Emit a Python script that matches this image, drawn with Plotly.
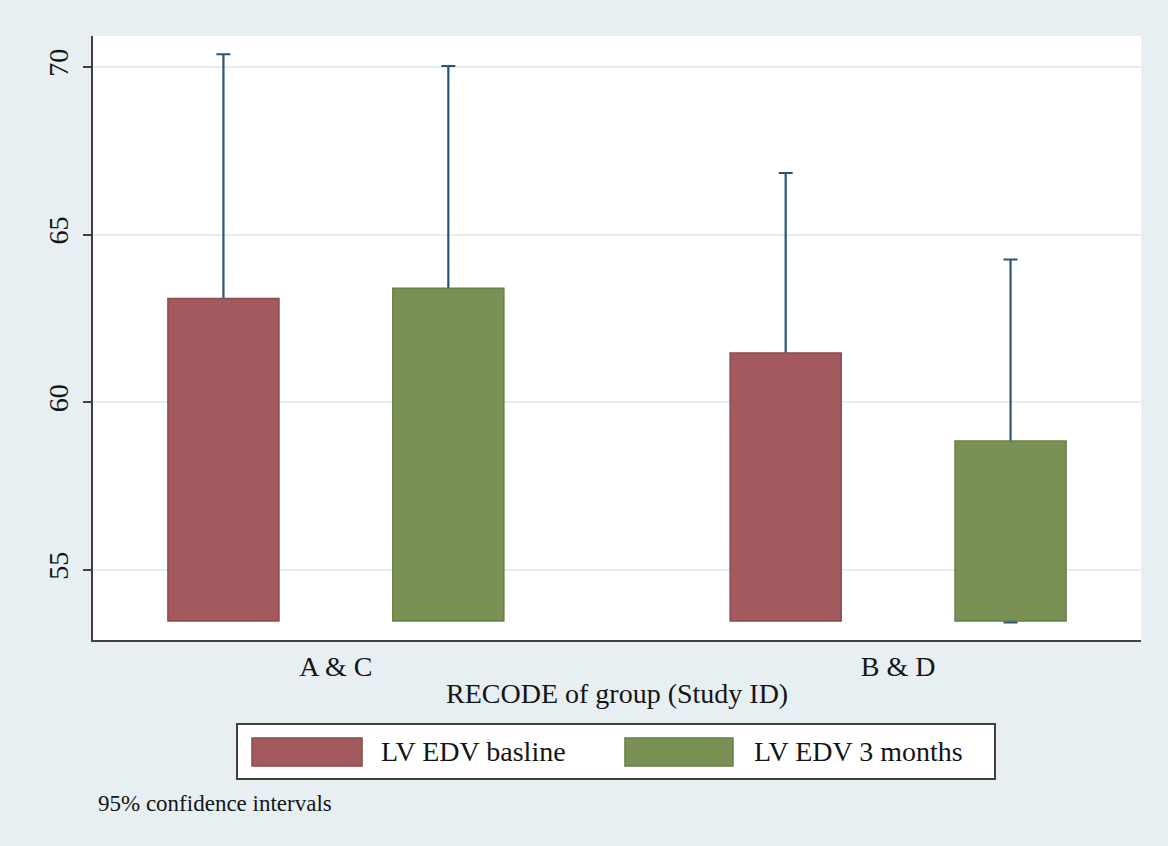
import plotly.graph_objects as go

# Mean LV end-diastolic volume by group, with 95% confidence intervals
groups = ["A & C", "B & D"]
series_names = ["LV EDV basline", "LV EDV 3 months"]
means = {
    "LV EDV basline": [63.10, 61.47],
    "LV EDV 3 months": [63.40, 58.85],
}
ci_low = {
    "LV EDV basline": [55.82, 56.10],
    "LV EDV 3 months": [56.77, 53.44],
}
ci_high = {
    "LV EDV basline": [70.38, 66.84],
    "LV EDV 3 months": [70.03, 64.26],
}
bar_base = 53.48
y_ticks = [55, 60, 65, 70]

fills = {"LV EDV basline": "#a35a5e", "LV EDV 3 months": "#7a9155"}
edges = {"LV EDV basline": "#8e4a50", "LV EDV 3 months": "#687f47"}
spike_color = "#2b5577"
serif = "Liberation Serif"
ink = "#151515"
outer_bg = "#e8eff3"

bar_width = 0.1975
slot_offset = {"LV EDV basline": -0.2 - bar_width / 2,
               "LV EDV 3 months": 0.2 - bar_width / 2}

fig = go.Figure()

# capped CI spikes first, so the bars drawn afterwards cover their lower half
for name in series_names:
    m = means[name]
    fig.add_trace(go.Bar(
        x=groups,
        y=m,
        width=bar_width,
        offset=slot_offset[name],
        marker=dict(color="rgba(0,0,0,0)", line=dict(width=0)),
        error_y=dict(
            type="data",
            symmetric=False,
            array=[hi - v for hi, v in zip(ci_high[name], m)],
            arrayminus=[v - lo for lo, v in zip(ci_low[name], m)],
            color=spike_color,
            thickness=2.2,
            width=7,
        ),
        hoverinfo="skip",
        showlegend=False,
    ))

for name in series_names:
    m = means[name]
    fig.add_trace(go.Bar(
        x=groups,
        y=[v - bar_base for v in m],
        base=[bar_base] * len(m),
        width=bar_width,
        offset=slot_offset[name],
        name=name,
        marker=dict(color=fills[name], line=dict(color=edges[name], width=1.5)),
        showlegend=False,
    ))

fig.update_layout(
    width=1168,
    height=846,
    margin=dict(l=93, r=27, t=36, b=206),
    paper_bgcolor=outer_bg,
    plot_bgcolor="white",
    barmode="overlay",
    font=dict(family=serif, size=28, color=ink),
    xaxis=dict(
        range=[-0.432, 1.432],
        showline=True,
        linecolor="#404040",
        linewidth=2,
        ticks="",
        showgrid=False,
        tickfont=dict(family=serif, size=28, color=ink),
        ticklabelstandoff=0,
    ),
    yaxis=dict(
        range=[52.912, 70.925],
        tickvals=y_ticks,
        ticktext=[str(t) for t in y_ticks],
        tickangle=-90,
        ticks="outside",
        ticklen=8,
        tickwidth=2,
        tickcolor="#404040",
        ticklabelstandoff=4,
        showline=True,
        linecolor="#404040",
        linewidth=2,
        showgrid=True,
        gridcolor="#e6eef1",
        gridwidth=1.5,
        zeroline=False,
        tickfont=dict(family=serif, size=28, color=ink),
    ),
)

# x axis title
fig.add_annotation(
    text="RECODE of group (Study ID)",
    xref="paper", yref="paper", x=0.5, y=-0.088,
    xanchor="center", yanchor="middle", showarrow=False,
    font=dict(family=serif, size=28, color=ink),
)

# legend box with wide colour keys
fig.add_shape(
    type="rect", xref="paper", yref="paper",
    x0=0.1374, x1=0.8607, y0=-0.2301, y1=-0.1391,
    fillcolor="white", line=dict(color="#404040", width=2),
)
key_x = {"LV EDV basline": (0.1517, 0.2567, 0.2729),
         "LV EDV 3 months": (0.5076, 0.6107, 0.6288)}
for name in series_names:
    x0, x1, tx = key_x[name]
    fig.add_shape(
        type="rect", xref="paper", yref="paper",
        x0=x0, x1=x1, y0=-0.2086, y1=-0.1623,
        fillcolor=fills[name], line=dict(color=edges[name], width=1.5),
    )
    fig.add_annotation(
        text=name, xref="paper", yref="paper", x=tx, y=-0.1854,
        xanchor="left", yanchor="middle", showarrow=False,
        font=dict(family=serif, size=28, color=ink),
    )

# footnote
fig.add_annotation(
    text="95% confidence intervals",
    xref="paper", yref="paper", x=0.003, y=-0.2715,
    xanchor="left", yanchor="middle", showarrow=False,
    font=dict(family=serif, size=23, color=ink),
)

fig.write_html("out.html")
